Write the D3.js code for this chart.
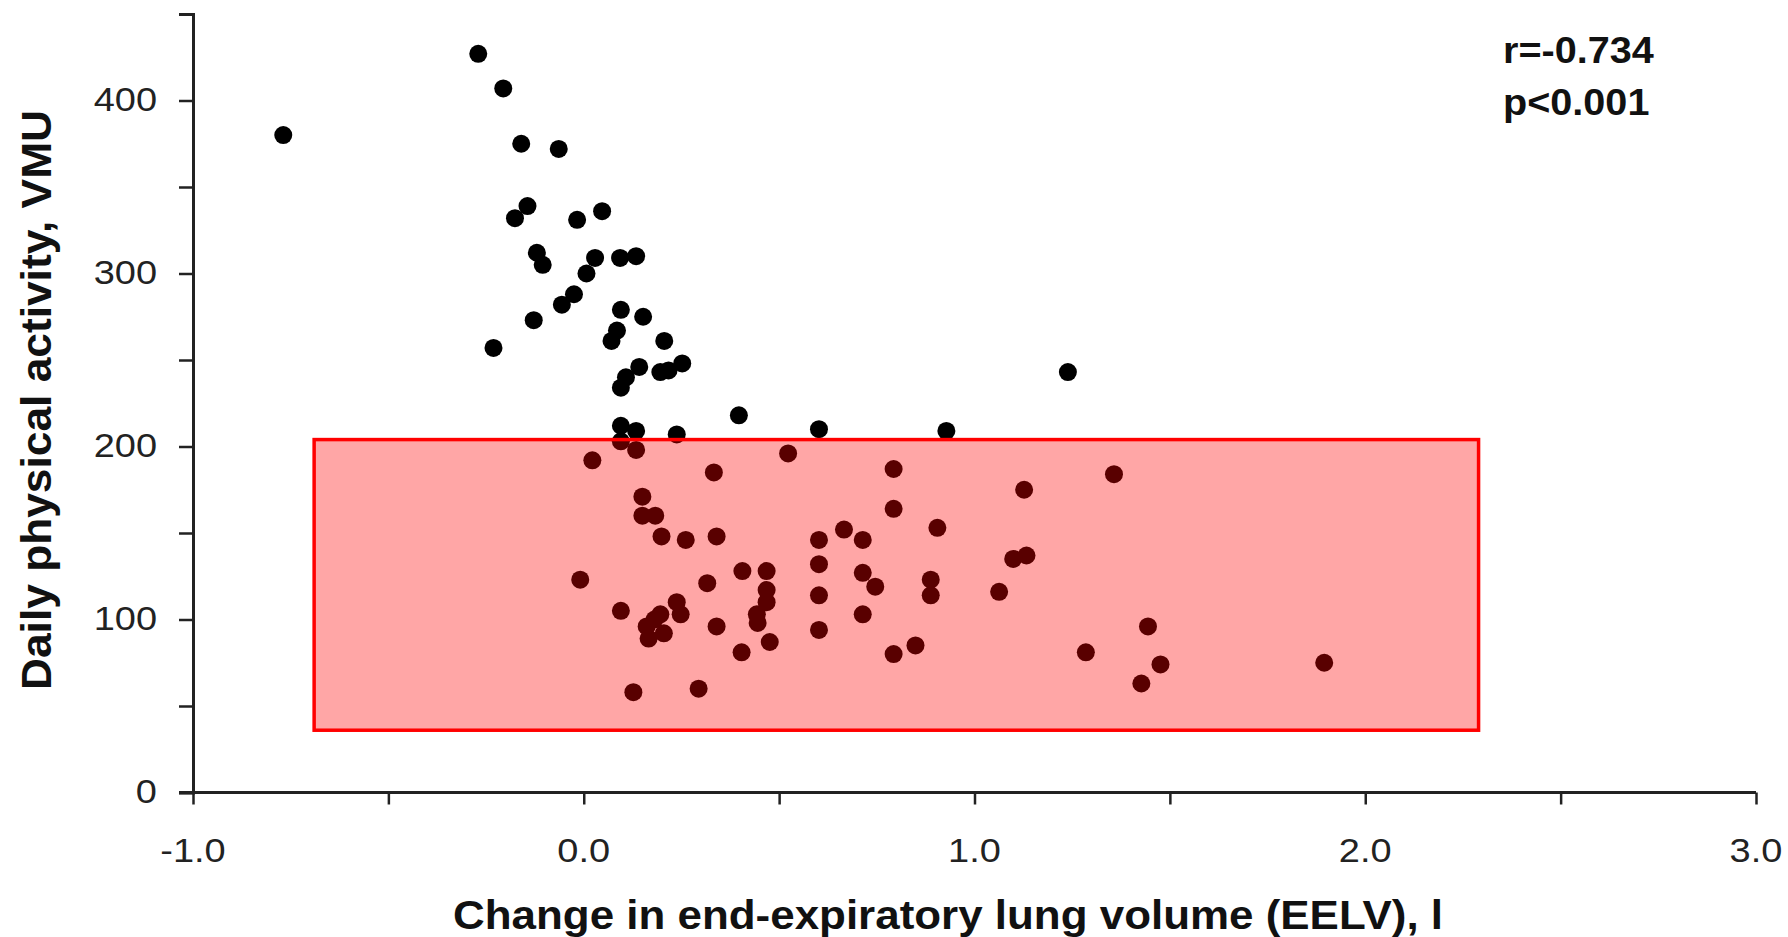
<!DOCTYPE html>
<html>
<head>
<meta charset="utf-8">
<script src="https://cdn.jsdelivr.net/npm/d3@7"></script>
<style>
body{margin:0;background:#fff;}
text{font-family:"Liberation Sans",Arial,sans-serif;}
</style>
</head>
<body>
<div id="chart"></div>
<script>
/*EELV vs daily activity scatter*/

// change in EELV (l)
var eelv = [-0.769,-0.270,-0.206,-0.160,-0.064,-0.144,-0.176,-0.017,0.047,-0.120,
  -0.105,0.029,0.093,0.134,0.007,-0.025,-0.056,-0.128,-0.231,0.095,
  0.152,0.085,0.071,0.206,0.252,0.217,0.196,0.142,0.108,0.095,
  0.397,0.095,0.134,0.238,0.602,0.928,1.239,
  0.022,0.095,0.134,0.333,0.150,0.150,0.183,0.199,0.261,0.340,
  -0.009,0.316,0.406,0.095,0.238,0.248,0.196,0.181,0.161,0.205,
  0.166,0.340,0.404,0.127,0.294,
  0.523,0.793,1.357,1.127,0.793,0.905,0.666,0.602,0.714,1.099,
  1.133,0.468,0.468,0.468,0.443,0.445,0.602,0.602,0.602,0.714,
  0.746,0.714,0.888,0.888,1.063,0.476,0.793,0.849,1.285,1.444,
  1.476,1.427,1.895];
// daily physical activity (VMU)
var vmu = [380,427,407,375,372,339,332,331,336,312,
  305,309,309,310,300,288,282,273,257,279,
  275,267,261,261,248,244,243,246,240,234,
  218,212,209,207,210,209,243,
  192,203,198,185,171,160,160,148,146,148,
  123,121,128,105,110,103,103,100,96,92,
  89,96,81,58,60,
  196,187,184,175,164,153,152,146,146,135,
  137,128,117,110,103,98,132,114,94,127,
  119,103,123,114,116,87,80,85,81,96,
  74,63,75];

var xTicks = [-1,-0.5,0,0.5,1,1.5,2,2.5,3];
var xLabels = ["-1.0","0.0","1.0","2.0","3.0"];
var yTicks = [0,50,100,150,200,250,300,350,400,450];
var yLabels = ["0","100","200","300","400"];
// highlighted region [x0,x1] and [y0,y1]
var boxX = [-0.69,2.29];
var boxY = [36,204];
var stats = ["r=-0.734","p<0.001"];

var W = 1788, H = 937;
var svg = d3.select("#chart").append("svg")
  .attr("width",W).attr("height",H);

var xScale = d3.scaleLinear().domain([-1,3]).range([193,1756]);
var yScale = d3.scaleLinear().domain([0,450]).range([792.5,14]);

// stretch a text to a wider box, like the original
function widen(sel,k){
  sel.each(function(){
    var w = this.getComputedTextLength();
    d3.select(this).attr("textLength",w*k).attr("lengthAdjust","spacingAndGlyphs");
  });
}

// dots first, the box sits on top of them
svg.append("g").selectAll("circle")
  .data(eelv).enter()
  .append("circle")
  .attr("cx",function(d){return xScale(d);})
  .attr("cy",function(d,i){return yScale(vmu[i]);})
  .attr("r",9)
  .attr("fill","#000");

svg.append("rect")
  .attr("x",xScale(boxX[0]))
  .attr("y",yScale(boxY[1]))
  .attr("width",xScale(boxX[1])-xScale(boxX[0]))
  .attr("height",yScale(boxY[0])-yScale(boxY[1]))
  .attr("fill","#ff0000")
  .attr("fill-opacity",0.35)
  .attr("stroke","#ff0000")
  .attr("stroke-width",3.5);

// axes
var xAxis = svg.append("g")
  .attr("transform","translate(0,"+yScale(0)+")")
  .call(d3.axisBottom(xScale).tickValues(xTicks).tickSize(12).tickFormat(""));
var yAxis = svg.append("g")
  .attr("transform","translate("+xScale(-1)+",0)")
  .call(d3.axisLeft(yScale).tickValues(yTicks).tickSize(14).tickFormat(""));
[xAxis,yAxis].forEach(function(a){
  a.select(".domain").attr("stroke","#222").attr("stroke-width",3);
  a.selectAll(".tick line").attr("stroke","#222").attr("stroke-width",2.5);
});
// extend the axis lines to the tick ends
xAxis.select(".domain").attr("d","M"+(xScale(-1)-14)+",0H"+xScale(3));

svg.append("g").selectAll("text")
  .data(xLabels).enter()
  .append("text")
  .attr("x",function(d){return xScale(+d);})
  .attr("y",862)
  .attr("text-anchor","middle")
  .attr("font-size",33)
  .attr("fill","#222")
  .text(function(d){return d;})
  .call(widen,1.15);

svg.append("g").selectAll("text")
  .data(yLabels).enter()
  .append("text")
  .attr("x",157)
  .attr("y",function(d){return yScale(+d)+10;})
  .attr("text-anchor","end")
  .attr("font-size",33)
  .attr("fill","#222")
  .text(function(d){return d;})
  .call(widen,1.15);

svg.append("text")
  .attr("x",948)
  .attr("y",929)
  .attr("text-anchor","middle")
  .attr("font-size",41)
  .attr("font-weight","bold")
  .attr("fill","#111")
  .attr("textLength",990)
  .attr("lengthAdjust","spacingAndGlyphs")
  .text("Change in end-expiratory lung volume (EELV), l");

svg.append("text")
  .attr("transform","translate(51,400)rotate(-90)")
  .attr("text-anchor","middle")
  .attr("font-size",42)
  .attr("font-weight","bold")
  .attr("fill","#111")
  .attr("textLength",580)
  .attr("lengthAdjust","spacingAndGlyphs")
  .text("Daily physical activity, VMU");

svg.append("g").selectAll("text")
  .data(stats).enter()
  .append("text")
  .attr("x",1503)
  .attr("y",function(d,i){return 63+i*52;})
  .attr("font-size",36)
  .attr("font-weight","bold")
  .attr("fill","#111")
  .text(function(d){return d;})
  .call(widen,1.1);
</script>
</body>
</html>
